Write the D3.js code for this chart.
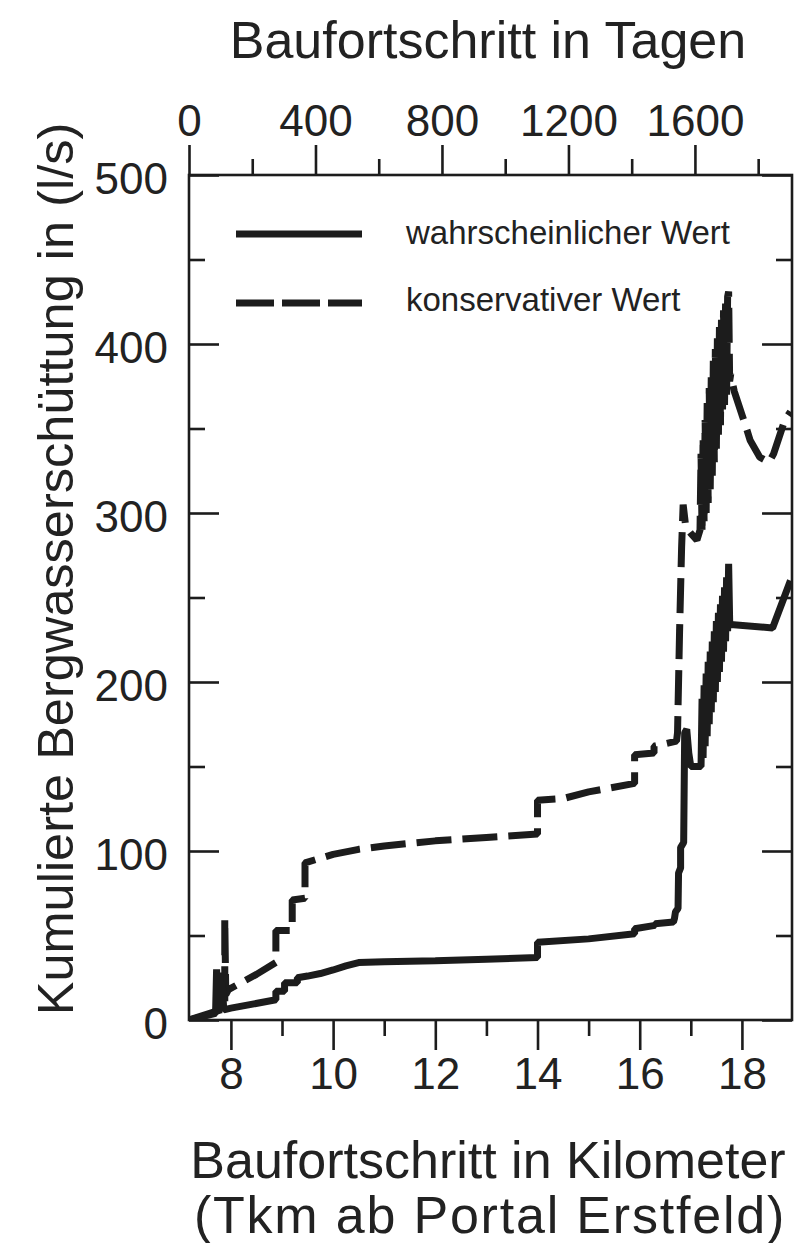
<!DOCTYPE html>
<html>
<head>
<meta charset="utf-8">
<script src="https://cdn.jsdelivr.net/npm/d3@7"></script>
<style>
  html, body { margin: 0; padding: 0; background: #fff; }
  svg { display: block; }
  text { font-family: "Liberation Sans", Arial, Helvetica, sans-serif; fill: #222; }
</style>
</head>
<body>
<svg id="chart" width="797" height="1243"></svg>
<script>
// ---------- DATA ----------
const kmTicks = [8, 10, 12, 14, 16, 18];
const kmMinorTicks = [9, 11, 13, 15, 17];
const dayTicks = [0, 400, 800, 1200, 1600];
const dayMinorTicks = [200, 600, 1000, 1400, 1800];
const yTicks = [0, 100, 200, 300, 400, 500];
const yMinorTicks = [50, 150, 250, 350, 450];

// wahrscheinlicher Wert (km, l/s)
const probKm = [7.18, 7.70, 7.72, 7.75, 7.78, 7.80, 7.83, 7.86, 8.00, 8.88, 8.88, 9.05, 9.05, 9.30, 9.30, 9.50, 9.75, 10.00, 10.25, 10.50, 11.00, 12.00, 13.00, 14.00, 14.00, 15.00, 15.90, 15.90, 16.30, 16.30, 16.66, 16.68, 16.70, 16.75, 16.76, 16.80, 16.80, 16.86, 16.88, 16.92, 16.96, 17.00, 17.15,
  17.20, 17.22, 17.24, 17.26, 17.28, 17.30, 17.32, 17.34, 17.36, 17.38, 17.40, 17.42, 17.44, 17.46, 17.48, 17.50, 17.52, 17.54, 17.56, 17.58, 17.60, 17.62, 17.64, 17.66, 17.68, 17.70, 17.72, 17.74, 17.76, 17.78, 18.60, 18.95];
const probVal = [0, 4, 30, 5, 28, 6, 22, 6, 7, 12, 17, 17, 22, 22, 25, 26, 27.5, 29.6, 32, 34, 34.5, 35, 36, 37, 46, 48, 51, 54, 56, 57, 58, 60, 64, 66, 87, 90, 102, 105, 170, 172, 158, 150, 150,
  150, 190, 155, 198, 162, 205, 168, 212, 175, 218, 182, 224, 188, 230, 194, 236, 200, 241, 206, 246, 212, 251, 218, 256, 224, 262, 230, 270, 236, 234, 232, 260];

// konservativer Wert (km, l/s)
const consKm = [7.18, 7.80, 7.88, 7.88, 7.90, 7.95, 8.50, 8.88, 8.88, 9.20, 9.20, 9.45, 9.45, 10.00, 10.50, 11.00, 12.00, 13.00, 14.00, 14.00, 14.50, 15.00, 15.90, 15.90, 16.28, 16.28, 16.72, 16.74, 16.78, 16.82, 16.85, 16.90, 17.00, 17.12,
  17.18, 17.20, 17.22, 17.24, 17.26, 17.28, 17.30, 17.32, 17.34, 17.36, 17.38, 17.40, 17.42, 17.44, 17.46, 17.48, 17.50, 17.52, 17.54, 17.56, 17.58, 17.60, 17.62, 17.64, 17.66, 17.68, 17.70, 17.72, 17.74, 17.76, 17.78,
  17.85, 18.10, 18.16, 18.35, 18.53, 18.62, 18.84, 18.95];
const consVal = [0, 6, 6, 60, 15, 18, 27, 34, 53, 53, 71, 72, 93, 98, 101, 103, 106, 108, 110, 130, 131, 135, 140, 157, 158, 162, 165, 170, 230, 280, 305, 292, 288, 284,
  290, 335, 288, 345, 294, 355, 300, 365, 306, 374, 314, 382, 322, 390, 330, 397, 338, 404, 345, 410, 352, 415, 358, 420, 364, 424, 370, 428, 431, 378, 382,
  372, 349, 343, 333, 330, 335, 355, 360];

const legendLabels = ["wahrscheinlicher Wert", "konservativer Wert"];
const topTitle = "Baufortschritt in Tagen";
const yTitle = "Kumulierte Bergwasserschüttung in (l/s)";
const xTitle1 = "Baufortschritt in Kilometer";
const xTitle2 = "(Tkm ab Portal Erstfeld)";

// ---------- LAYOUT ----------
const svg = d3.select("#chart");
const L = 189, R = 792, T = 175, B = 1020;
const x = d3.scaleLinear().domain([7.18, 18.98]).range([L, R]);
const xTop = d3.scaleLinear().domain([0, 1907]).range([L, R]);
const y = d3.scaleLinear().domain([0, 500]).range([B, T]);

const ink = "#1c1c1c";
const axisW = 2.6;
const majorLen = 30, minorLen = 16;

// frame
svg.append("rect").attr("x", L).attr("y", T).attr("width", R - L).attr("height", B - T)
  .attr("fill", "none").attr("stroke", ink).attr("stroke-width", axisW);

function styleAxis(g) {
  g.select(".domain").remove();
  g.selectAll(".tick line").attr("stroke", ink).attr("stroke-width", axisW);
  g.selectAll(".tick text").attr("fill", ink)
    .style("font-family", '"Liberation Sans", Arial, Helvetica, sans-serif');
}

// bottom axis (outward ticks)
const gB = svg.append("g").attr("transform", `translate(0,${B})`)
  .call(d3.axisBottom(x).tickValues(kmTicks).tickFormat(d3.format("d")).tickSize(majorLen).tickPadding(8));
styleAxis(gB);
gB.selectAll(".tick text").style("font-size", "44px");
svg.append("g").attr("transform", `translate(0,${B})`)
  .call(d3.axisBottom(x).tickValues(kmMinorTicks).tickFormat("").tickSize(minorLen)).call(styleAxis);

// top axis (outward ticks)
const gT = svg.append("g").attr("transform", `translate(0,${T})`)
  .call(d3.axisTop(xTop).tickValues(dayTicks).tickFormat(d3.format("d")).tickSize(majorLen).tickPadding(9));
styleAxis(gT);
gT.selectAll(".tick text").style("font-size", "44px");
svg.append("g").attr("transform", `translate(0,${T})`)
  .call(d3.axisTop(xTop).tickValues(dayMinorTicks).tickFormat("").tickSize(minorLen)).call(styleAxis);

// left axis (inward ticks)
const gL = svg.append("g").attr("transform", `translate(${L},0)`)
  .call(d3.axisRight(y).tickValues(yTicks).tickFormat(d3.format("d")).tickSize(majorLen));
styleAxis(gL);
gL.selectAll(".tick text").attr("x", -21).attr("dy", "0.42em").attr("text-anchor", "end").style("font-size", "44px");
svg.append("g").attr("transform", `translate(${L},0)`)
  .call(d3.axisRight(y).tickValues(yMinorTicks).tickFormat("").tickSize(minorLen)).call(styleAxis);

// right axis (inward ticks)
svg.append("g").attr("transform", `translate(${R},0)`)
  .call(d3.axisLeft(y).tickValues(yTicks).tickFormat("").tickSize(majorLen)).call(styleAxis);
svg.append("g").attr("transform", `translate(${R},0)`)
  .call(d3.axisLeft(y).tickValues(yMinorTicks).tickFormat("").tickSize(minorLen)).call(styleAxis);

// ---------- LINES ----------
svg.append("clipPath").attr("id", "plotclip")
  .append("rect").attr("x", L).attr("y", T - 5).attr("width", R - L).attr("height", B - T + 5);

const line = d3.line().x(d => x(d[0])).y(d => y(d[1]));
const probData = probKm.map((k, i) => [k, probVal[i]]);
const consData = consKm.map((k, i) => [k, consVal[i]]);

const plot = svg.append("g").attr("clip-path", "url(#plotclip)");
plot.append("path").datum(consData).attr("d", line)
  .attr("fill", "none").attr("stroke", ink).attr("stroke-width", 7)
  .attr("stroke-dasharray", "35,11").attr("stroke-linejoin", "bevel").attr("stroke-linecap", "butt");
plot.append("path").datum(probData).attr("d", line)
  .attr("fill", "none").attr("stroke", ink).attr("stroke-width", 7)
  .attr("stroke-linejoin", "bevel").attr("stroke-linecap", "butt");

// ---------- LEGEND ----------
const leg = svg.append("g");
leg.append("line").attr("x1", 236).attr("x2", 362).attr("y1", 234).attr("y2", 234)
  .attr("stroke", ink).attr("stroke-width", 7);
leg.append("line").attr("x1", 236).attr("x2", 362).attr("y1", 303).attr("y2", 303)
  .attr("stroke", ink).attr("stroke-width", 7).attr("stroke-dasharray", "38,8");
leg.append("text").attr("x", 406).attr("y", 232).attr("dy", "0.35em")
  .style("font-size", "33px").text(legendLabels[0]);
leg.append("text").attr("x", 406).attr("y", 299).attr("dy", "0.35em")
  .style("font-size", "33px").text(legendLabels[1]);

// ---------- TITLES ----------
svg.append("text").attr("x", 488).attr("y", 40).attr("dy", "0.35em").attr("text-anchor", "middle")
  .style("font-size", "52px").text(topTitle);
svg.append("text").attr("transform", "translate(55,569) rotate(-90)").attr("dy", "0.35em")
  .attr("text-anchor", "middle").style("font-size", "50.5px").text(yTitle);
svg.append("text").attr("x", 488).attr("y", 1160).attr("dy", "0.35em").attr("text-anchor", "middle")
  .style("font-size", "52px").text(xTitle1);
svg.append("text").attr("x", 490).attr("y", 1215).attr("dy", "0.35em").attr("text-anchor", "middle")
  .style("font-size", "52px").style("letter-spacing", "1.8px").text(xTitle2);
</script>
</body>
</html>
